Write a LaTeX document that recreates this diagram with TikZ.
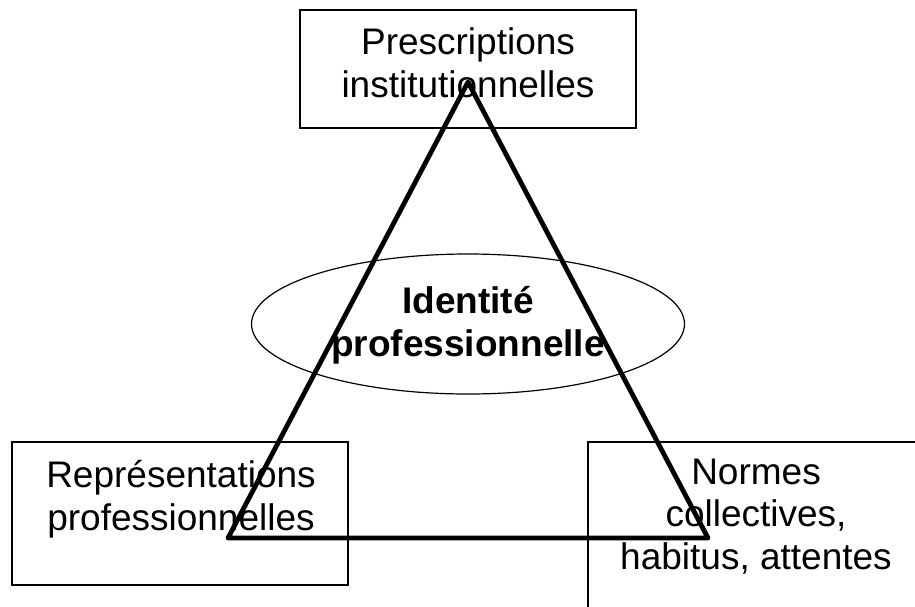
\documentclass[tikz,border=0pt]{standalone}
\usepackage{fontspec}
\setmainfont{Liberation Sans}
\usetikzlibrary{shapes.geometric}
\begin{document}
\begin{tikzpicture}[x=1pt,y=-1pt,
  box/.style={draw, line width=1.3pt, inner sep=0pt},
  oval/.style={ellipse, draw, line width=1.2pt, inner sep=0pt},
  txt/.style={font=\fontsize{37}{42.5}\selectfont, align=center, inner sep=0pt, anchor=base},
  bold/.style={txt, font=\fontsize{37}{43}\selectfont\bfseries},
  tri/.style={line width=4.8pt, line join=round, line cap=round}]
\useasboundingbox (0,0) rectangle (915,606);
% boxes
\node[box, minimum width=336pt, minimum height=118pt] (presc) at (468,69) {};
\node[box, minimum width=336pt, minimum height=143pt] (repr) at (180,513.5) {};
\node[box, minimum width=336pt, minimum height=185pt] (norm) at (756,534.5) {};
\node[oval, minimum width=433pt, minimum height=140pt] (ident) at (468,324) {};
% texts (anchor at baseline of last line)
\node[txt] (prescT) at (468,97) {Prescriptions\\institutionnelles};
\node[txt] (reprT) at (181,530) {Représentations\\professionnelles};
\node[txt] (normT) at (756,569) {Normes\\collectives,\\habitus, attentes};
\node[bold] (identT) at (468,356) {Identité\\professionnelle};
% triangle
\coordinate (apex) at (468,82);
\coordinate (bl) at (228,538);
\coordinate (br) at (708,538);
\draw[tri] (apex) -- (bl) -- (br) -- cycle;
\end{tikzpicture}
\end{document}
